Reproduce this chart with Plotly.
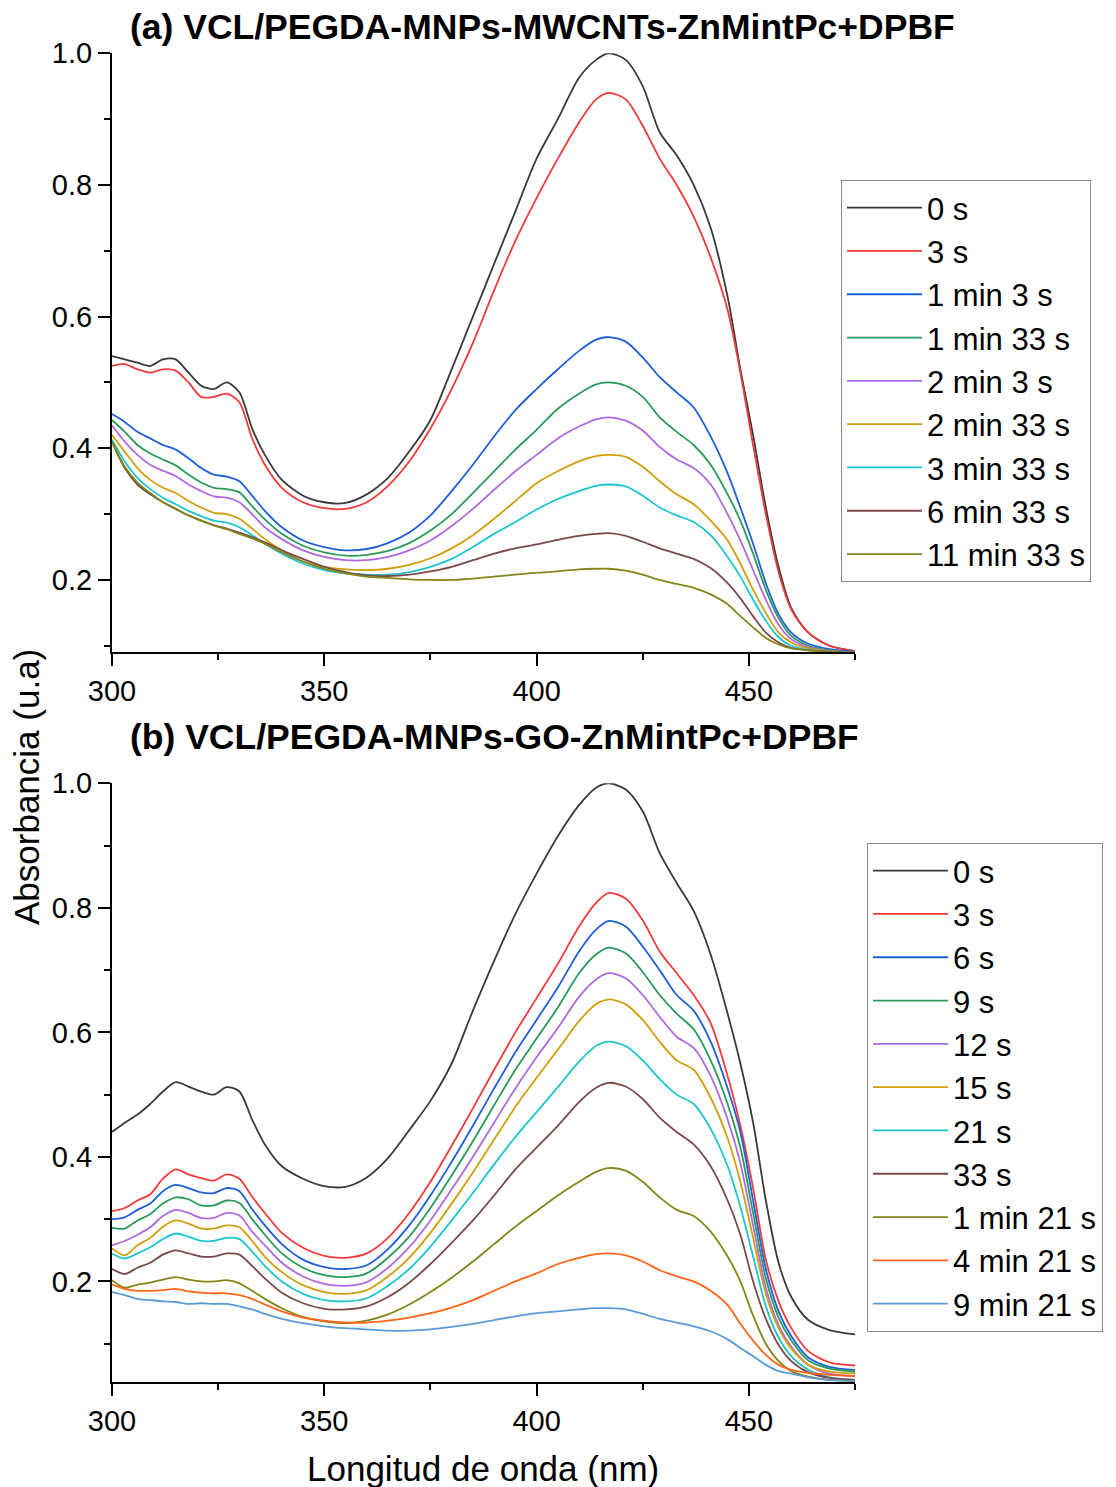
import plotly.graph_objects as go

# ---------------- data ----------------
WAVELENGTH = [300, 303, 306, 309, 312, 315, 318, 321, 324, 327, 330, 333, 336, 340, 345,
              350, 355, 360, 365, 370, 375, 380, 385, 390, 395, 400, 405, 410, 414, 417,
              421, 425, 429, 433, 437, 441, 445, 448, 451, 454, 457, 460, 464, 469, 475]

# Panel (a)
LABELS_A = ["0 s", "3 s", "1 min 3 s", "1 min 33 s", "2 min 3 s", "2 min 33 s",
            "3 min 33 s", "6 min 33 s", "11 min 33 s"]
A_0S = [0.540, 0.535, 0.530, 0.525, 0.535, 0.535, 0.515, 0.495, 0.490, 0.500, 0.485, 0.430, 0.390, 0.352, 0.328,
        0.318, 0.317, 0.330, 0.355, 0.395, 0.443, 0.520, 0.600, 0.680, 0.760, 0.840, 0.900, 0.963, 0.990, 1.000,
        0.990, 0.950, 0.880, 0.845, 0.800, 0.735, 0.630, 0.520, 0.420, 0.310, 0.220, 0.157, 0.120, 0.100, 0.092]
A_3S = [0.525, 0.528, 0.520, 0.515, 0.520, 0.518, 0.500, 0.478, 0.478, 0.483, 0.470, 0.415, 0.375, 0.340, 0.318,
        0.309, 0.308, 0.318, 0.343, 0.380, 0.430, 0.490, 0.560, 0.640, 0.715, 0.780, 0.840, 0.895, 0.930, 0.940,
        0.930, 0.890, 0.840, 0.800, 0.752, 0.690, 0.610, 0.515, 0.405, 0.300, 0.212, 0.155, 0.120, 0.100, 0.092]
A_1M3S = [0.452, 0.440, 0.425, 0.415, 0.405, 0.398, 0.385, 0.370, 0.360, 0.357, 0.350, 0.328, 0.305, 0.280, 0.260,
          0.250, 0.245, 0.247, 0.256, 0.272, 0.298, 0.335, 0.375, 0.418, 0.458, 0.490, 0.520, 0.548, 0.565, 0.569,
          0.562, 0.538, 0.508, 0.485, 0.462, 0.418, 0.362, 0.310, 0.255, 0.195, 0.148, 0.120, 0.103, 0.095, 0.091]
A_1M33S = [0.443, 0.425, 0.405, 0.392, 0.383, 0.374, 0.360, 0.348, 0.340, 0.338, 0.333, 0.312, 0.292, 0.270, 0.252,
           0.242, 0.237, 0.238, 0.244, 0.256, 0.275, 0.300, 0.332, 0.365, 0.398, 0.428, 0.460, 0.483, 0.497, 0.500,
           0.495, 0.478, 0.447, 0.425, 0.405, 0.375, 0.330, 0.290, 0.240, 0.185, 0.142, 0.115, 0.100, 0.093, 0.090]
A_2M3S = [0.435, 0.410, 0.390, 0.375, 0.366, 0.358, 0.345, 0.335, 0.327, 0.325, 0.318, 0.300, 0.280, 0.262, 0.245,
          0.235, 0.230, 0.230, 0.235, 0.245, 0.260, 0.282, 0.308, 0.337, 0.365, 0.390, 0.415, 0.433, 0.444, 0.447,
          0.442, 0.427, 0.402, 0.383, 0.370, 0.345, 0.300, 0.260, 0.215, 0.170, 0.132, 0.110, 0.098, 0.092, 0.090]
A_2M33S = [0.420, 0.395, 0.370, 0.352, 0.340, 0.332, 0.320, 0.310, 0.302, 0.300, 0.293, 0.278, 0.262, 0.245, 0.228,
           0.220, 0.216, 0.215, 0.217, 0.223, 0.233, 0.248, 0.268, 0.293, 0.320, 0.347, 0.365, 0.380, 0.388, 0.390,
           0.387, 0.372, 0.350, 0.330, 0.315, 0.290, 0.260, 0.225, 0.185, 0.150, 0.120, 0.105, 0.096, 0.092, 0.090]
A_3M33S = [0.413, 0.380, 0.355, 0.338, 0.325, 0.315, 0.305, 0.297, 0.290, 0.287, 0.280, 0.268, 0.255, 0.240, 0.225,
           0.215, 0.210, 0.208, 0.208, 0.212, 0.220, 0.232, 0.250, 0.270, 0.288, 0.307, 0.323, 0.335, 0.343, 0.345,
           0.342, 0.328, 0.310, 0.298, 0.288, 0.268, 0.235, 0.205, 0.170, 0.138, 0.113, 0.100, 0.094, 0.091, 0.090]
A_6M33S = [0.410, 0.370, 0.345, 0.330, 0.318, 0.308, 0.298, 0.290, 0.283, 0.278, 0.272, 0.265, 0.257, 0.245, 0.232,
           0.220, 0.212, 0.207, 0.206, 0.208, 0.213, 0.220, 0.230, 0.240, 0.248, 0.254, 0.261, 0.267, 0.270, 0.271,
           0.267, 0.258, 0.248, 0.240, 0.232, 0.218, 0.195, 0.172, 0.145, 0.120, 0.105, 0.097, 0.093, 0.091, 0.090]
A_11M33S = [0.410, 0.372, 0.348, 0.332, 0.318, 0.308, 0.298, 0.290, 0.283, 0.277, 0.270, 0.263, 0.255, 0.242, 0.228,
            0.217, 0.210, 0.205, 0.203, 0.201, 0.200, 0.200, 0.202, 0.205, 0.208, 0.211, 0.213, 0.216, 0.217, 0.217,
            0.214, 0.208, 0.200, 0.194, 0.188, 0.178, 0.163, 0.145, 0.128, 0.112, 0.102, 0.096, 0.093, 0.091, 0.090]

# Panel (b)
LABELS_B = ["0 s", "3 s", "6 s", "9 s", "12 s", "15 s", "21 s", "33 s",
            "1 min 21 s", "4 min 21 s", "9 min 21 s"]
B_0S = [0.440, 0.455, 0.468, 0.485, 0.505, 0.520, 0.513, 0.505, 0.500, 0.512, 0.505, 0.460, 0.420, 0.385, 0.365,
        0.353, 0.352, 0.367, 0.398, 0.443, 0.490, 0.550, 0.635, 0.715, 0.790, 0.855, 0.915, 0.965, 0.993, 1.000,
        0.990, 0.955, 0.888, 0.840, 0.795, 0.725, 0.630, 0.550, 0.455, 0.330, 0.230, 0.175, 0.138, 0.122, 0.115]
B_3S = [0.313, 0.318, 0.330, 0.340, 0.365, 0.380, 0.372, 0.366, 0.362, 0.372, 0.365, 0.336, 0.310, 0.278, 0.254,
        0.241, 0.238, 0.245, 0.270, 0.310, 0.360, 0.418, 0.478, 0.540, 0.600, 0.655, 0.710, 0.770, 0.808, 0.824,
        0.815, 0.780, 0.730, 0.695, 0.660, 0.615, 0.530, 0.450, 0.350, 0.235, 0.168, 0.125, 0.088, 0.070, 0.065]
B_6S = [0.300, 0.303, 0.315, 0.325, 0.345, 0.355, 0.350, 0.343, 0.342, 0.350, 0.345, 0.316, 0.290, 0.260, 0.235,
        0.223, 0.220, 0.226, 0.252, 0.290, 0.338, 0.392, 0.450, 0.510, 0.568, 0.620, 0.672, 0.730, 0.765, 0.779,
        0.770, 0.738, 0.700, 0.660, 0.635, 0.585, 0.510, 0.440, 0.330, 0.220, 0.152, 0.112, 0.078, 0.063, 0.058]
B_9S = [0.286, 0.285, 0.298, 0.308, 0.325, 0.335, 0.332, 0.322, 0.322, 0.330, 0.326, 0.300, 0.275, 0.245, 0.222,
        0.210, 0.207, 0.213, 0.238, 0.272, 0.318, 0.370, 0.425, 0.483, 0.540, 0.590, 0.640, 0.695, 0.725, 0.736,
        0.727, 0.697, 0.660, 0.630, 0.605, 0.555, 0.485, 0.415, 0.310, 0.205, 0.142, 0.105, 0.073, 0.060, 0.055]
B_12S = [0.258, 0.265, 0.275, 0.287, 0.305, 0.315, 0.310, 0.302, 0.302, 0.310, 0.306, 0.280, 0.258, 0.230, 0.208,
         0.196, 0.193, 0.199, 0.222, 0.255, 0.298, 0.348, 0.400, 0.455, 0.510, 0.560, 0.607, 0.657, 0.685, 0.695,
         0.687, 0.660, 0.625, 0.593, 0.575, 0.530, 0.460, 0.390, 0.290, 0.190, 0.130, 0.095, 0.066, 0.052, 0.048]
B_15S = [0.253, 0.242, 0.258, 0.270, 0.288, 0.298, 0.293, 0.285, 0.285, 0.290, 0.287, 0.265, 0.240, 0.215, 0.194,
         0.183, 0.180, 0.186, 0.208, 0.238, 0.278, 0.325, 0.375, 0.428, 0.480, 0.527, 0.572, 0.618, 0.645, 0.653,
         0.645, 0.620, 0.585, 0.555, 0.540, 0.495, 0.430, 0.360, 0.270, 0.180, 0.125, 0.092, 0.066, 0.055, 0.052]
B_21S = [0.245, 0.237, 0.245, 0.255, 0.268, 0.277, 0.272, 0.265, 0.265, 0.270, 0.268, 0.248, 0.225, 0.200, 0.180,
         0.170, 0.168, 0.173, 0.193, 0.220, 0.256, 0.298, 0.342, 0.388, 0.432, 0.472, 0.512, 0.553, 0.578, 0.585,
         0.578, 0.555, 0.525, 0.500, 0.485, 0.445, 0.385, 0.320, 0.240, 0.160, 0.110, 0.080, 0.058, 0.046, 0.042]
B_33S = [0.220, 0.212, 0.222, 0.230, 0.243, 0.250, 0.245, 0.240, 0.240, 0.245, 0.243, 0.225, 0.205, 0.182, 0.165,
         0.156, 0.155, 0.160, 0.175, 0.198, 0.228, 0.262, 0.298, 0.338, 0.380, 0.415, 0.450, 0.488, 0.511, 0.519,
         0.513, 0.493, 0.463, 0.440, 0.420, 0.385, 0.330, 0.275, 0.200, 0.140, 0.098, 0.072, 0.054, 0.045, 0.042]
B_1M21S = [0.202, 0.190, 0.195, 0.198, 0.203, 0.207, 0.203, 0.200, 0.200, 0.202, 0.197, 0.185, 0.172, 0.157, 0.143,
           0.136, 0.133, 0.137, 0.147, 0.163, 0.183, 0.206, 0.232, 0.260, 0.288, 0.313, 0.338, 0.360, 0.376, 0.382,
           0.378, 0.360, 0.335, 0.315, 0.305, 0.280, 0.240, 0.200, 0.145, 0.100, 0.072, 0.056, 0.047, 0.042, 0.040]
B_4M21S = [0.195, 0.188, 0.185, 0.185, 0.186, 0.188, 0.184, 0.182, 0.181, 0.181, 0.178, 0.172, 0.163, 0.152, 0.142,
           0.137, 0.134, 0.134, 0.137, 0.142, 0.149, 0.158, 0.170, 0.185, 0.200, 0.213, 0.228, 0.238, 0.244, 0.245,
           0.242, 0.232, 0.218, 0.208, 0.200, 0.185, 0.162, 0.132, 0.105, 0.082, 0.066, 0.058, 0.053, 0.050, 0.048]
B_9M21S = [0.183, 0.178, 0.172, 0.170, 0.168, 0.167, 0.164, 0.165, 0.164, 0.164, 0.160, 0.155, 0.148, 0.140, 0.133,
           0.128, 0.125, 0.123, 0.121, 0.121, 0.123, 0.127, 0.132, 0.138, 0.144, 0.149, 0.152, 0.155, 0.157, 0.157,
           0.155, 0.148, 0.140, 0.134, 0.128, 0.120, 0.107, 0.093, 0.080, 0.066, 0.056, 0.052, 0.046, 0.042, 0.040]

X_TICKS = [300, 350, 400, 450]
Y_TICKS = [0.2, 0.4, 0.6, 0.8, 1.0]

# ---------------- style ----------------
COLORS_A = ["#3a3a3a", "#f23a3a", "#1e5fd8", "#2a9a5a", "#b06ae0", "#d19e0c",
            "#1cc6cf", "#7a4a4a", "#848618"]
COLORS_B = ["#3a3a3a", "#f23a3a", "#1e5fd8", "#2a9a5a", "#b06ae0", "#d19e0c",
            "#1cc6cf", "#7a4a4a", "#848618", "#ff6418", "#5a9ad8"]

SERIES_A = [A_0S, A_3S, A_1M3S, A_1M33S, A_2M3S, A_2M33S, A_3M33S, A_6M33S, A_11M33S]
SERIES_B = [B_0S, B_3S, B_6S, B_9S, B_12S, B_15S, B_21S, B_33S, B_1M21S, B_4M21S, B_9M21S]

FONT = "Liberation Sans, Arial, sans-serif"
OFF = 8                       # page body margin of the browser
W, H = 1116 - OFF, 1487 - OFF


def px(x):
    return (x - OFF) / W


def py(y):
    return 1 - (y - OFF) / H


fig = go.Figure()
for lab, ys, col in zip(LABELS_A, SERIES_A, COLORS_A):
    fig.add_trace(go.Scatter(x=WAVELENGTH, y=ys, name=lab, mode="lines",
                             line=dict(color=col, width=1.8, shape="spline", smoothing=0.8),
                             xaxis="x", yaxis="y", legend="legend", legendgroup="a" + lab))
for lab, ys, col in zip(LABELS_B, SERIES_B, COLORS_B):
    fig.add_trace(go.Scatter(x=WAVELENGTH, y=ys, name=lab, mode="lines",
                             line=dict(color=col, width=1.8, shape="spline", smoothing=0.8),
                             xaxis="x2", yaxis="y2", legend="legend2", legendgroup="b" + lab))

xdom = [px(112), px(855)]
ydom_a = [py(651.7), py(53.3)]
ydom_b = [py(1381.7), py(783.3)]

axis_common = dict(showline=True, linecolor="black", linewidth=2, ticks="outside",
                   ticklen=12, tickwidth=2, tickcolor="black", showgrid=False, zeroline=False,
                   tickfont=dict(family=FONT, size=29, color="black"), mirror=False)

xa = dict(axis_common, range=[300, 475], tickvals=X_TICKS, domain=xdom,
          minor=dict(tickvals=[325, 375, 425, 475], ticklen=6, tickwidth=2, tickcolor="black", ticks="outside"),
          ticklabelstandoff=0)
ymin = dict(tickvals=[0.1, 0.3, 0.5, 0.7, 0.9], ticklen=6, tickwidth=2, tickcolor="black", ticks="outside")
fig.update_layout(
    xaxis=dict(xa, anchor="y"),
    xaxis2=dict(xa, anchor="y2"),
    yaxis=dict(axis_common, range=[0.091, 1.0], tickvals=Y_TICKS, tickformat=".1f", domain=ydom_a,
               anchor="x", ticklabelstandoff=0, minor=ymin),
    yaxis2=dict(axis_common, range=[0.039, 1.0], tickvals=Y_TICKS, tickformat=".1f", domain=ydom_b,
                anchor="x2", ticklabelstandoff=0, minor=ymin),
)

leg_common = dict(font=dict(family=FONT, size=31, color="black"), bgcolor="white",
                  bordercolor="#8a8a8a", borderwidth=1, itemwidth=75, xanchor="left",
                  yanchor="top", tracegroupgap=0, traceorder="normal")
fig.update_layout(
    legend=dict(leg_common, x=px(841), y=py(180)),
    legend2=dict(leg_common, x=px(867), y=py(843)),
)

fig.update_layout(
    width=W, height=H, paper_bgcolor="white", plot_bgcolor="white",
    margin=dict(l=0, r=0, t=0, b=0, autoexpand=False),
    annotations=[
        dict(text="<b>(a) VCL/PEGDA-MNPs-MWCNTs-ZnMintPc+DPBF</b>", x=px(542), y=py(27),
             xref="paper", yref="paper", xanchor="center", yanchor="middle", showarrow=False,
             font=dict(family=FONT, size=35.5, color="black")),
        dict(text="<b>(b) VCL/PEGDA-MNPs-GO-ZnMintPc+DPBF</b>", x=px(494), y=py(737),
             xref="paper", yref="paper", xanchor="center", yanchor="middle", showarrow=False,
             font=dict(family=FONT, size=35.5, color="black")),
        dict(text="Absorbancia (u.a)", x=px(27), y=py(787), textangle=-90,
             xref="paper", yref="paper", xanchor="center", yanchor="middle", showarrow=False,
             font=dict(family=FONT, size=35, color="black")),
        dict(text="Longitud de onda (nm)", x=px(483), y=py(1468),
             xref="paper", yref="paper", xanchor="center", yanchor="middle", showarrow=False,
             font=dict(family=FONT, size=35, color="black")),
    ],
)

fig.write_html("out.html")
